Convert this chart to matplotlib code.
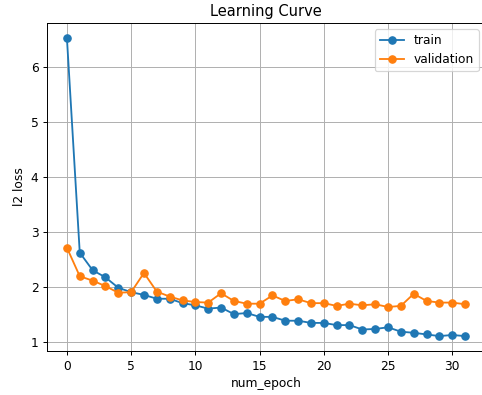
import matplotlib
matplotlib.use('Agg')
import matplotlib.pyplot as plt

epochs = list(range(32))
train_loss = [6.53, 2.62, 2.30, 2.17, 1.98, 1.90, 1.85, 1.78, 1.78, 1.70,
              1.66, 1.60, 1.62, 1.50, 1.52, 1.45, 1.45, 1.38, 1.38, 1.34,
              1.34, 1.30, 1.30, 1.22, 1.23, 1.26, 1.18, 1.16, 1.13, 1.10,
              1.12, 1.10]
val_loss = [2.71, 2.19, 2.11, 2.01, 1.89, 1.90, 2.25, 1.91, 1.82, 1.75,
            1.72, 1.71, 1.88, 1.74, 1.69, 1.69, 1.84, 1.74, 1.77, 1.70,
            1.70, 1.65, 1.69, 1.66, 1.68, 1.63, 1.65, 1.87, 1.74, 1.71,
            1.71, 1.68]

DPI = 88
fig = plt.figure(figsize=(482 / DPI, 395 / DPI), dpi=DPI)
# axes placed by pixel: left 47, right ~485 (cropped), top 23, bottom 351
ax = fig.add_axes([47 / 482, 1 - 351 / 395, 438 / 482, 328 / 395])

ax.plot(epochs, train_loss, 'o-', label='train')
ax.plot(epochs, val_loss, 'o-', label='validation')

ax.set_title('Learning Curve')
ax.set_xlabel('num_epoch')
ax.set_ylabel('l2 loss')
ax.grid(True)
ax.legend(loc='upper right')

fig.savefig('out.png', dpi=DPI)
